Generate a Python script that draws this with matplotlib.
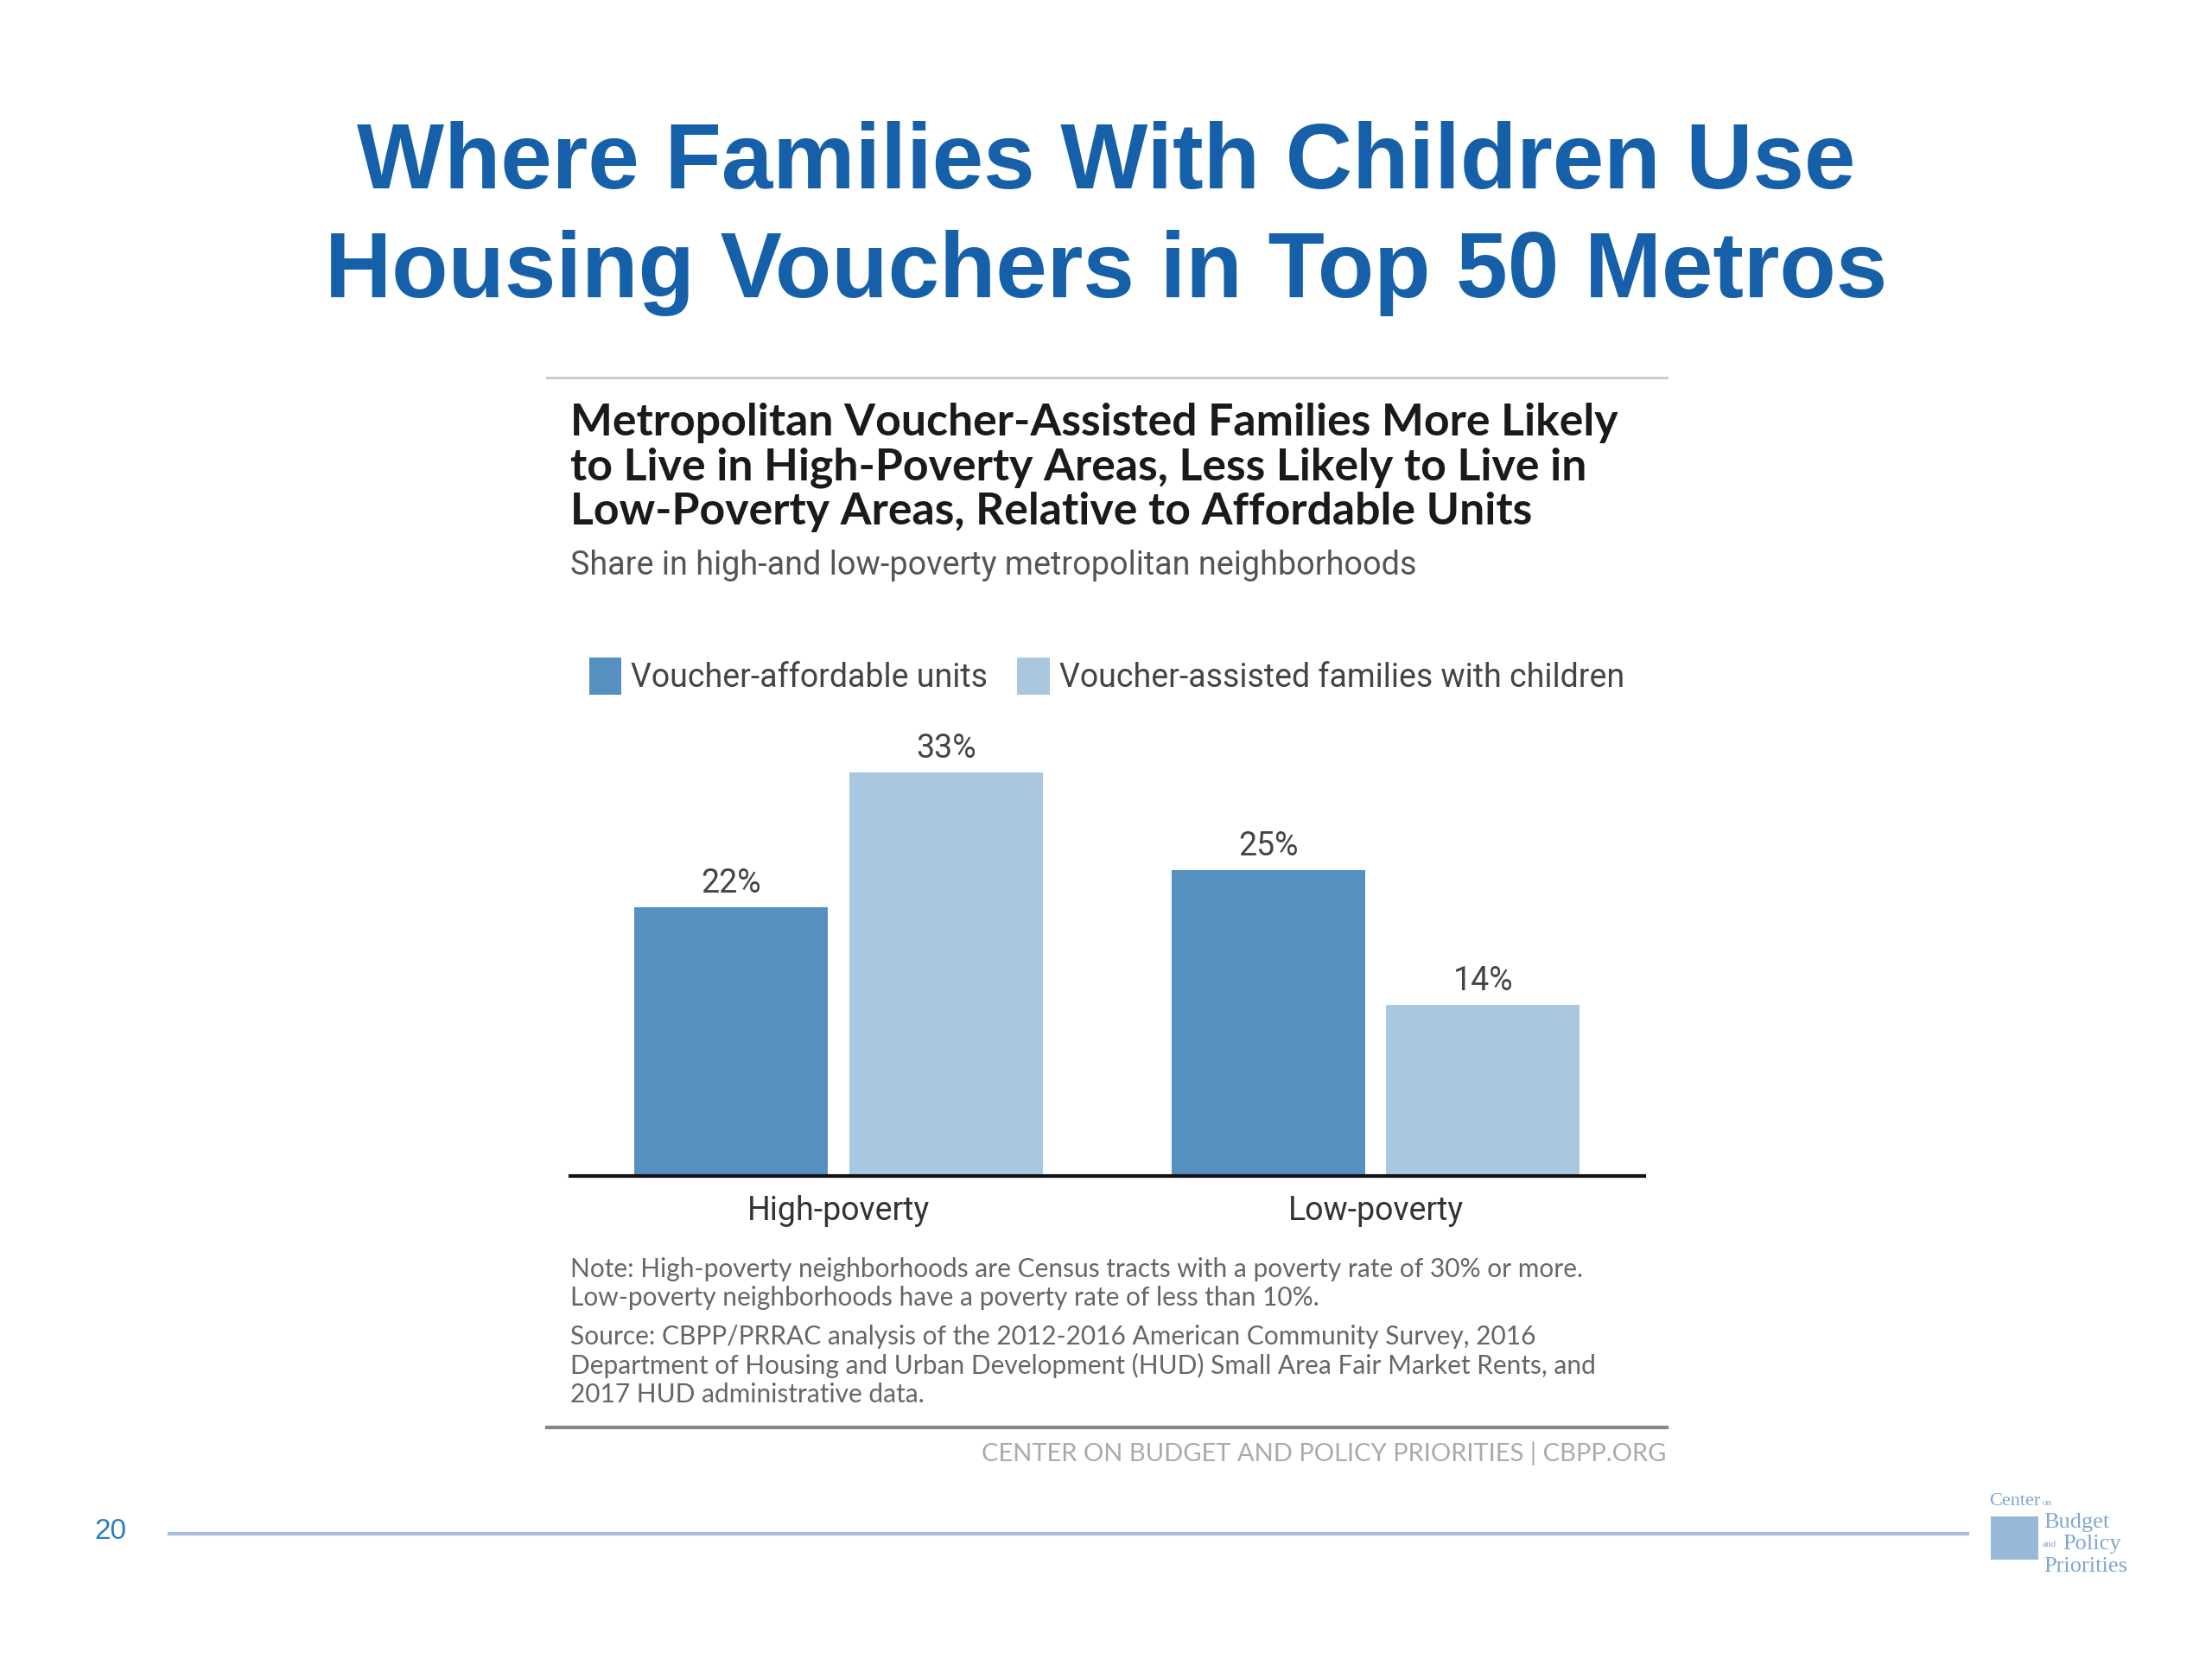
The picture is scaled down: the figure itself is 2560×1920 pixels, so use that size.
import numpy as np
import matplotlib.pyplot as plt
from matplotlib.patches import Rectangle

categories = ['High-poverty', 'Low-poverty']
affordable_units = [22, 25]
families_children = [33, 14]
series_names = ['Voucher-affordable units', 'Voucher-assisted families with children']

dark_blue = '#5590c0'
light_blue = '#a9c8e0'
title_blue = '#1560a8'
narrow = ['Roboto', 'DejaVu Sans']

W, H = 2560, 1920
S = 0.989  # correction from my pixel estimates
fig = plt.figure(figsize=(W / 100, H / 100), dpi=100)
fig.patch.set_facecolor('white')


def fy(y):
    return 1 - y * S / H


def fx(x):
    return x * S / W


# slide title
fig.text(0.5, fy(192), 'Where Families With Children Use', ha='center', va='center',
         fontsize=77, fontweight='bold', color=title_blue, family='Liberation Sans')
fig.text(0.5, fy(320), 'Housing Vouchers in Top 50 Metros', ha='center', va='center',
         fontsize=77, fontweight='bold', color=title_blue, family='Liberation Sans')

# rules around the embedded chart
fig.add_artist(plt.Line2D([fx(640), fx(1950)], [fy(442), fy(442)], color='#c8c8c8', lw=2))
fig.add_artist(plt.Line2D([fx(640), fx(1950)], [fy(1670), fy(1670)], color='#888888', lw=3))

chart_title = ('Metropolitan Voucher-Assisted Families More Likely\n'
               'to Live in High-Poverty Areas, Less Likely to Live in\n'
               'Low-Poverty Areas, Relative to Affordable Units')
fig.text(fx(667), fy(547), chart_title, ha='left', va='center', fontsize=37.3,
         fontweight='bold', color='#1a1a1a', family='Lato', linespacing=1.1)
fig.text(fx(667), fy(662), 'Share in high-and low-poverty metropolitan neighborhoods',
         ha='left', va='center', fontsize=27.2, color='#555555', family=narrow)

# bars
ax = fig.add_axes([fx(667), fy(1376), fx(1924 - 667), (1376 - 804) * S / H])
x = np.arange(len(categories))
w = 0.36
off = 0.2
b1 = ax.bar(x - off, affordable_units, w, color=dark_blue, label=series_names[0])
b2 = ax.bar(x + off, families_children, w, color=light_blue, label=series_names[1])
for bars in (b1, b2):
    for r in bars:
        ax.text(r.get_x() + r.get_width() / 2, r.get_height() + 0.65, f'{r.get_height():.0f}%',
                ha='center', va='bottom', fontsize=27, color='#444444', family=narrow)
ax.set_xlim(-0.5, 1.5)
ax.set_ylim(0, 40)
ax.set_xticks(x)
ax.set_xticklabels(categories, fontsize=27, color='#333333', family=narrow)
ax.tick_params(axis='x', length=0, pad=16)
ax.set_yticks([])
for s in ['top', 'left', 'right']:
    ax.spines[s].set_visible(False)
ax.spines['bottom'].set_linewidth(3)
ax.spines['bottom'].set_color('#111111')
ax.patch.set_alpha(0)

fig.legend(handles=[b1, b2], loc='center left', bbox_to_anchor=(fx(655), fy(791)), ncol=2,
           frameon=False, prop={'family': narrow, 'size': 27}, handlelength=1.0,
           handleheight=1.4, handletextpad=0.3, columnspacing=0.9, labelcolor='#444444')

notes = ('Note: High-poverty neighborhoods are Census tracts with a poverty rate of 30% or more.\n'
         'Low-poverty neighborhoods have a poverty rate of less than 10%.')
source = ('Source: CBPP/PRRAC analysis of the 2012-2016 American Community Survey, 2016\n'
          'Department of Housing and Urban Development (HUD) Small Area Fair Market Rents, and\n'
          '2017 HUD administrative data.')
fig.text(fx(667), fy(1471), notes, ha='left', va='top', fontsize=21.5, color='#666666',
         family='Lato', linespacing=1.22)
fig.text(fx(667), fy(1550), source, ha='left', va='top', fontsize=21.5, color='#666666',
         family='Lato', linespacing=1.22)
fig.text(fx(1950), fy(1701), 'CENTER ON BUDGET AND POLICY PRIORITIES | CBPP.ORG', ha='right',
         va='center', fontsize=21, color='#aaaaaa', family='Lato')

# footer
fig.text(fx(129), fy(1792), '20', ha='center', va='center', fontsize=24, color='#2a7fc0',
         family='Liberation Sans')
fig.add_artist(plt.Line2D([fx(198), fx(2302)], [fy(1795), fy(1795)], color='#a9bfd8', lw=3))

# logo
logo_blue = '#7fa6d0'
fig.patches.append(Rectangle((fx(2330), fy(1825)), fx(55), 50 * S / H, transform=fig.transFigure,
                             facecolor=logo_blue, edgecolor='none', alpha=0.8))
fig.text(fx(2328), fy(1757), 'Center', ha='left', va='center', fontsize=16, color=logo_blue,
         family='Liberation Serif')
fig.text(fx(2390), fy(1759), 'on', ha='left', va='center', fontsize=8, color=logo_blue,
         family='Liberation Serif')
fig.text(fx(2392), fy(1782), 'Budget', ha='left', va='center', fontsize=19, color=logo_blue,
         family='Liberation Serif')
fig.text(fx(2390), fy(1807), 'and', ha='left', va='center', fontsize=8, color=logo_blue,
         family='Liberation Serif')
fig.text(fx(2414), fy(1807), 'Policy', ha='left', va='center', fontsize=19, color=logo_blue,
         family='Liberation Serif')
fig.text(fx(2392), fy(1833), 'Priorities', ha='left', va='center', fontsize=19, color=logo_blue,
         family='Liberation Serif')

fig.savefig('out.png', dpi=100, facecolor='white')
